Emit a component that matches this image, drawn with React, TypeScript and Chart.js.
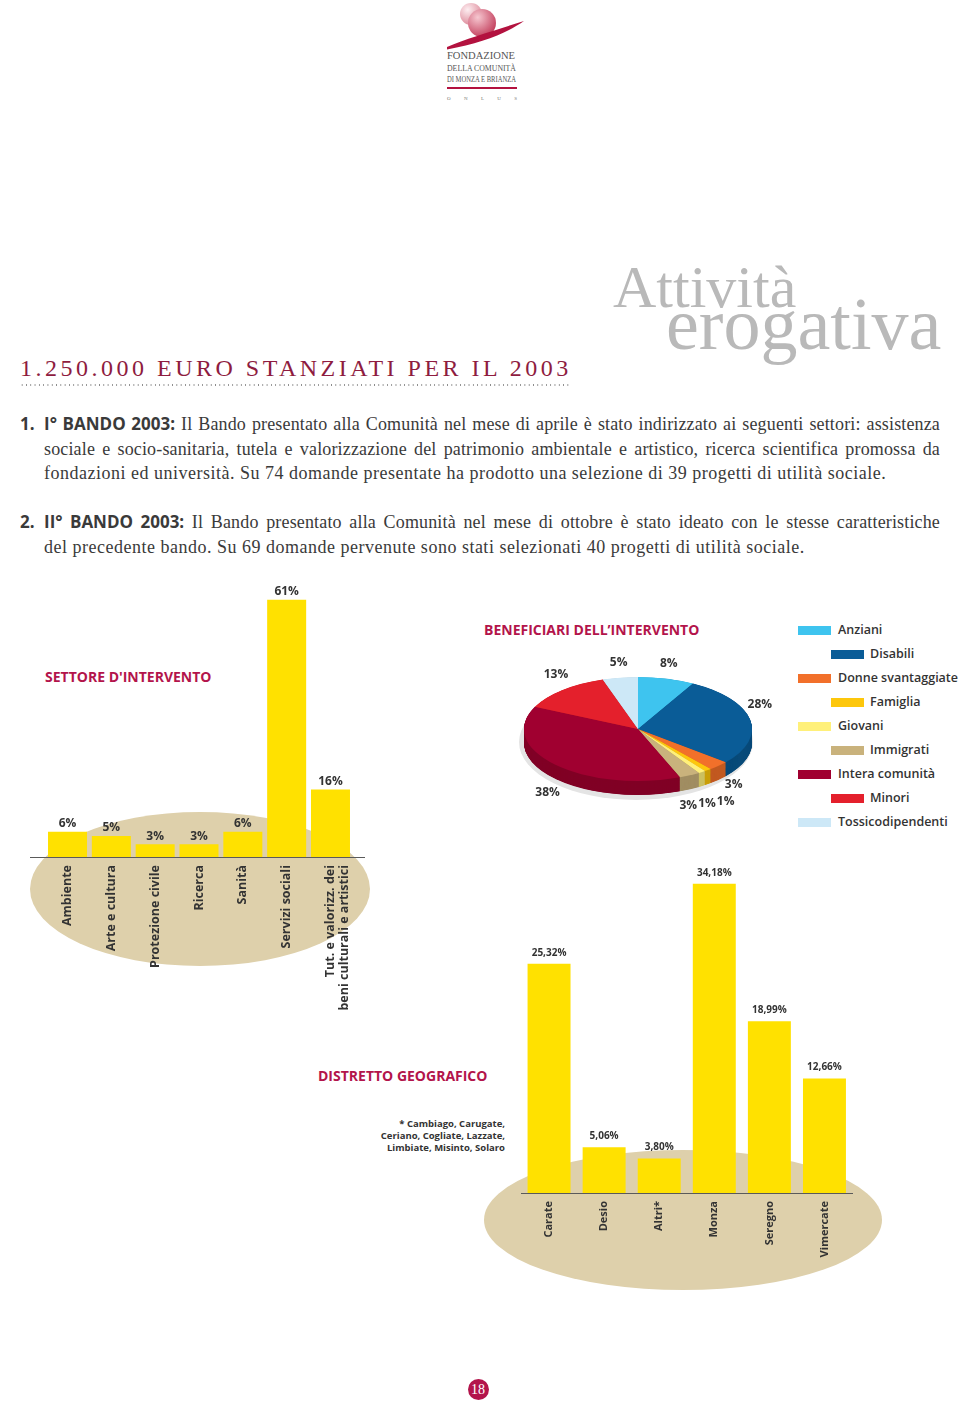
import React, { useEffect, useRef } from "react";
import { Chart, registerables } from "chart.js";

Chart.register(...registerables);

// ---------- DATA ----------
const sectorLabels: (string | string[])[] = [
  "Ambiente",
  "Arte e cultura",
  "Protezione civile",
  "Ricerca",
  "Sanità",
  "Servizi sociali",
  ["Tut. e valorizz. dei", "beni culturali e artistici"],
];
const sectorValues = [6, 5, 3, 3, 6, 61, 16];

const beneficiaryLabels = [
  "Anziani",
  "Disabili",
  "Donne svantaggiate",
  "Famiglia",
  "Giovani",
  "Immigrati",
  "Intera comunità",
  "Minori",
  "Tossicodipendenti",
];
const beneficiaryValues = [8, 28, 3, 1, 1, 3, 38, 13, 5];
const beneficiaryColors = [
  "#3ec4ef",
  "#0a5c97",
  "#f2702a",
  "#fdc70c",
  "#fff07a",
  "#c9b27c",
  "#a00030",
  "#e4202c",
  "#cde8f7",
];

const districtLabels = ["Carate", "Desio", "Altri*", "Monza", "Seregno", "Vimercate"];
const districtValues = [25.32, 5.06, 3.8, 34.18, 18.99, 12.66];

// ---------- STYLE CONSTANTS ----------
const SANS = "'Open Sans', 'Noto Sans', sans-serif";
const SERIF = "'Liberation Serif', 'DejaVu Serif', serif";
const YELLOW = "#ffe100";
const BEIGE = "#ded0ab";
const CRIMSON = "#b3144b";
const DARK_CRIMSON = "#8e1c40";
const TEXT = "#333333";

function darken(hex: string, f: number) {
  const n = parseInt(hex.slice(1), 16);
  const r = Math.round(((n >> 16) & 255) * f);
  const g = Math.round(((n >> 8) & 255) * f);
  const b = Math.round((n & 255) * f);
  return `rgb(${r},${g},${b})`;
}

type BarCfg = {
  labels: (string | string[])[];
  values: number[];
  format: (v: number) => string;
  max: number;
  pad: { left: number; right: number; top: number };
  axisHeight: number;
  tickSize: number;
  valueSize: number;
  valueGap: number;
  ellipse: { x: number; y: number; rx: number; ry: number };
  axisFrom: number;
  axisTo: number;
  barPercentage: number;
};

function makeBar(canvas: HTMLCanvasElement, cfg: BarCfg) {
  const deco = {
    id: "deco",
    beforeDraw(chart: any) {
      const ctx = chart.ctx;
      ctx.save();
      ctx.fillStyle = BEIGE;
      ctx.beginPath();
      ctx.ellipse(cfg.ellipse.x, cfg.ellipse.y, cfg.ellipse.rx, cfg.ellipse.ry, 0, 0, Math.PI * 2);
      ctx.fill();
      ctx.restore();
    },
    afterDatasetsDraw(chart: any) {
      const ctx = chart.ctx;
      const bottom = chart.chartArea.bottom;
      ctx.save();
      ctx.strokeStyle = "#5a5a5a";
      ctx.lineWidth = 1.2;
      ctx.beginPath();
      ctx.moveTo(cfg.axisFrom, bottom + 0.5);
      ctx.lineTo(cfg.axisTo, bottom + 0.5);
      ctx.stroke();
      ctx.fillStyle = TEXT;
      ctx.font = `bold ${cfg.valueSize}px ${SANS}`;
      ctx.textAlign = "center";
      ctx.textBaseline = "middle";
      const meta = chart.getDatasetMeta(0);
      meta.data.forEach((bar: any, i: number) => {
        ctx.fillText(cfg.format(cfg.values[i]), bar.x, bar.y - cfg.valueGap);
      });
      ctx.restore();
    },
  };
  return new Chart(canvas, {
    type: "bar",
    data: {
      labels: cfg.labels as any,
      datasets: [
        {
          data: cfg.values,
          backgroundColor: YELLOW,
          borderWidth: 0,
          barPercentage: cfg.barPercentage,
          categoryPercentage: 1,
        },
      ],
    },
    options: {
      responsive: false,
      animation: false,
      layout: { padding: { left: cfg.pad.left, right: cfg.pad.right, top: cfg.pad.top, bottom: 0 } },
      plugins: { legend: { display: false }, tooltip: { enabled: false } },
      scales: {
        x: {
          grid: { display: false, drawTicks: false },
          border: { display: false },
          ticks: {
            autoSkip: false,
            minRotation: 90,
            maxRotation: 90,
            padding: 8,
            color: TEXT,
            font: { family: SANS, size: cfg.tickSize, weight: "bold" as any, lineHeight: 1.15 },
          },
          afterFit: (scale: any) => {
            scale.height = cfg.axisHeight;
          },
        },
        y: { display: false, min: 0, max: cfg.max },
      },
    },
    plugins: [deco],
  });
}

const PIE_K = 0.456; // vertical squash of the tilted pie
const PIE_T = 14; // thickness of pie side
const PIE_SHIFT = -1;

function makePie(canvas: HTMLCanvasElement) {
  const dark = beneficiaryColors.map((c) => darken(c, 0.8));
  const pie3d = {
    id: "pie3d",
    beforeDraw(chart: any) {
      const a = chart.getDatasetMeta(0).data[0];
      if (!a) return;
      const ctx = chart.ctx;
      const ty = a.y + PIE_SHIFT;
      ctx.save();
      ctx.fillStyle = "#e4e4e4";
      ctx.beginPath();
      ctx.ellipse(a.x - 2, ty + 13, a.outerRadius + 3, a.outerRadius * PIE_K + 6, 0, 0, Math.PI * 2);
      ctx.fill();
      ctx.restore();
    },
    beforeDatasetsDraw(chart: any) {
      const arcs = chart.getDatasetMeta(0).data;
      const ctx = chart.ctx;
      const cx = arcs[0].x;
      const cy = arcs[0].y;
      const ty = cy + PIE_SHIFT;
      ctx.save();
      ctx.translate(cx, ty);
      ctx.scale(1, PIE_K);
      ctx.translate(-cx, -cy);
      const D = PIE_T / PIE_K;
      for (let o = D; o > 0; o -= 0.7) {
        arcs.forEach((a: any, i: number) => {
          ctx.beginPath();
          ctx.moveTo(a.x, a.y + o);
          ctx.arc(a.x, a.y + o, a.outerRadius, a.startAngle, a.endAngle);
          ctx.closePath();
          ctx.fillStyle = dark[i];
          ctx.fill();
        });
      }
      // leave the transform active: chart.js draws the top face squashed
    },
    afterDatasetsDraw(chart: any) {
      const ctx = chart.ctx;
      ctx.restore();
      const arcs = chart.getDatasetMeta(0).data;
      const cx = arcs[0].x;
      const ty = arcs[0].y + PIE_SHIFT;
      const R = arcs[0].outerRadius;
      ctx.save();
      ctx.font = `bold 12px ${SANS}`;
      ctx.fillStyle = TEXT;
      ctx.textAlign = "center";
      ctx.textBaseline = "middle";
      const pos = arcs.map((a: any, i: number) => {
        const mid = (a.startAngle + a.endAngle) / 2;
        const c = Math.cos(mid);
        const s = Math.sin(mid);
        const label = `${beneficiaryValues[i]}%`;
        return {
          label,
          x: cx + c * (R + 10),
          y: ty + s * R * PIE_K + (s > 0 ? PIE_T + 14 : -15),
          w: ctx.measureText(label).width,
          moved: false,
        };
      });
      for (let i = 1; i < pos.length; i++) {
        const p = pos[i];
        const q = pos[i - 1];
        const minDx = (p.w + q.w) / 2 + 1;
        if (Math.abs(p.y - q.y) < 12 && Math.abs(p.x - q.x) < minDx) {
          if (!q.moved) {
            q.y -= 9;
            q.x += 8;
            p.y = q.y + 17;
            p.x = q.x - 8;
          } else {
            p.x = q.x - minDx;
            p.y = q.y + 2;
          }
          p.moved = true;
        }
      }
      pos.forEach((p: any) => ctx.fillText(p.label, p.x, p.y));
      ctx.restore();
    },
  };
  return new Chart(canvas, {
    type: "pie",
    data: {
      labels: beneficiaryLabels,
      datasets: [
        {
          data: beneficiaryValues,
          backgroundColor: beneficiaryColors,
          borderWidth: 0,
        },
      ],
    },
    options: {
      responsive: false,
      animation: false,
      layout: { padding: { left: 54, right: 44, top: 16, bottom: 16 } },
      plugins: { legend: { display: false }, tooltip: { enabled: false } },
    },
    plugins: [pie3d],
  });
}

const sectorCfg: BarCfg = {
  labels: sectorLabels,
  values: sectorValues,
  format: (v) => `${v}%`,
  max: 65,
  pad: { left: 45.6, right: 47.6, top: 8 },
  axisHeight: 173,
  tickSize: 12.5,
  valueSize: 12,
  valueGap: 8,
  ellipse: { x: 200, y: 314, rx: 170, ry: 77 },
  axisFrom: 30,
  axisTo: 365,
  barPercentage: 0.89,
};

const districtCfg: BarCfg = {
  labels: districtLabels,
  values: districtValues,
  format: (v) => `${v.toFixed(2).replace(".", ",")}%`,
  max: 36,
  pad: { left: 41.5, right: 48, top: 17.2 },
  axisHeight: 107,
  tickSize: 11,
  valueSize: 10,
  valueGap: 11,
  ellipse: { x: 203, y: 370, rx: 199, ry: 70 },
  axisFrom: 41,
  axisTo: 373,
  barPercentage: 0.78,
};

const para1 = [
  {
    num: "1.",
    bold: "I° BANDO 2003:",
    text: " Il Bando presentato alla Comunità nel mese di aprile è stato indirizzato ai seguenti settori: assistenza",
    justify: true,
  },
  {
    text: "sociale e socio-sanitaria, tutela e valorizzazione del patrimonio ambientale e artistico, ricerca scientifica promossa da",
    justify: true,
  },
  {
    text: "fondazioni ed università. Su 74 domande presentate ha prodotto una selezione di 39 progetti di utilità sociale.",
    justify: false,
  },
];
const para2 = [
  {
    num: "2.",
    bold: "II° BANDO 2003:",
    text: " Il Bando presentato alla Comunità nel mese di ottobre è stato ideato con le stesse caratteristiche",
    justify: true,
  },
  {
    text: "del precedente bando. Su 69 domande pervenute sono stati selezionati 40 progetti di utilità sociale.",
    justify: false,
  },
];

const abs = (left: number, top: number, extra: React.CSSProperties = {}): React.CSSProperties => ({
  position: "absolute",
  left,
  top,
  whiteSpace: "nowrap",
  ...extra,
});

function ParaLine({ line, top }: { line: any; top: number }) {
  return (
    <>
      {line.num && (
        <div style={abs(20, top, { fontFamily: SANS, fontWeight: 700, fontSize: 17, lineHeight: "24.5px", color: "#3a3a3a" })}>
          {line.num}
        </div>
      )}
      <div
        style={abs(44, top, {
          width: 896,
          fontFamily: SERIF,
          fontSize: 18,
          letterSpacing: line.justify ? "0.15px" : "0.5px",
          lineHeight: "24.5px",
          color: "#3a3a3a",
          textAlign: line.justify ? "justify" : "left",
          textAlignLast: line.justify ? "justify" : "left",
          whiteSpace: "normal",
          height: 24.5,
          overflow: "visible",
        } as any)}
      >
        {line.bold && (
          <span style={{ fontFamily: SANS, fontWeight: 700, fontSize: 17, letterSpacing: "0px" }}>{line.bold}</span>
        )}
        {line.text}
      </div>
    </>
  );
}

export default function App() {
  const c1 = useRef<HTMLCanvasElement>(null);
  const c2 = useRef<HTMLCanvasElement>(null);
  const c3 = useRef<HTMLCanvasElement>(null);

  useEffect(() => {
    const charts = [makeBar(c1.current!, sectorCfg), makePie(c2.current!), makeBar(c3.current!, districtCfg)];
    return () => charts.forEach((c) => c.destroy());
  }, []);

  const titleStyle = (left: number, top: number): React.CSSProperties =>
    abs(left, top, { fontFamily: SANS, fontWeight: 700, fontSize: 14, lineHeight: "16px", color: CRIMSON });

  return (
    <div
      style={{
        position: "absolute",
        left: 0,
        top: 0,
        width: 960,
        height: 1403,
        background: "#ffffff",
        overflow: "hidden",
      }}
    >
      {/* Logo */}
      <svg style={{ position: "absolute", left: 440, top: 0 }} width={90} height={105} viewBox="440 0 90 105">
        <defs>
          <radialGradient id="lg1" cx="0.35" cy="0.3" r="0.75">
            <stop offset="0" stopColor="#fdeef1" />
            <stop offset="1" stopColor="#dc8797" />
          </radialGradient>
          <radialGradient id="lg2" cx="0.35" cy="0.3" r="0.75">
            <stop offset="0" stopColor="#f6c7d0" />
            <stop offset="1" stopColor="#c23c5a" />
          </radialGradient>
        </defs>
        <circle cx={471} cy={14} r={11} fill="url(#lg1)" />
        <circle cx={482} cy={23} r={14} fill="url(#lg2)" />
        <path d="M447,47 C468,38 496,30 524,21 C507,33 482,43 447,49.5 Z" fill="#b3123f" />
        <text x={447} y={59} fontFamily={SERIF} fontSize={10} fill="#555" textLength={68} lengthAdjust="spacingAndGlyphs">
          FONDAZIONE
        </text>
        <text x={447} y={70.5} fontFamily={SERIF} fontSize={8.5} fill="#555" textLength={69} lengthAdjust="spacingAndGlyphs">
          DELLA COMUNITÀ
        </text>
        <text x={447} y={81.5} fontFamily={SERIF} fontSize={7.5} fill="#555" textLength={69} lengthAdjust="spacingAndGlyphs">
          DI MONZA E BRIANZA
        </text>
        <rect x={447} y={87} width={70} height={2} fill="#b3123f" />
        <text x={447} y={100} fontFamily={SERIF} fontSize={5} fill="#777" textLength={70} lengthAdjust="spacing">
          O N L U S
        </text>
      </svg>

      {/* Attività erogativa */}
      <div style={abs(613, 257, { fontFamily: SERIF, fontSize: 60, lineHeight: "60px", color: "#b9b9b9" })}>Attività</div>
      <div style={abs(666, 287, { fontFamily: SERIF, fontSize: 74, lineHeight: "74px", color: "#b9b9b9" })}>erogativa</div>

      {/* Heading */}
      <div
        style={abs(20, 356, {
          fontFamily: SERIF,
          fontSize: 24,
          lineHeight: "24px",
          letterSpacing: "3.5px",
          color: DARK_CRIMSON,
        })}
      >
        1.250.000 EURO STANZIATI PER IL 2003
      </div>
      <div
        style={abs(20, 384, {
          width: 550,
          height: 2,
          backgroundImage: "radial-gradient(circle, #8a8a8a 0.6px, transparent 0.9px)",
          backgroundSize: "4.3px 2px",
        })}
      />

      {/* Paragraphs */}
      {para1.map((l, i) => (
        <ParaLine key={"a" + i} line={l} top={412 + i * 24.5} />
      ))}
      {para2.map((l, i) => (
        <ParaLine key={"b" + i} line={l} top={510 + i * 24.5} />
      ))}

      {/* Sector chart */}
      <div style={titleStyle(45, 669)}>SETTORE D'INTERVENTO</div>
      <canvas
        ref={c1}
        width={400}
        height={455}
        style={{ position: "absolute", left: 0, top: 575, width: 400, height: 455 }}
      />

      {/* Beneficiaries pie */}
      <div style={titleStyle(484, 622)}>BENEFICIARI DELL’INTERVENTO</div>
      <canvas
        ref={c2}
        width={326}
        height={260}
        style={{ position: "absolute", left: 470, top: 600, width: 326, height: 260 }}
      />
      {beneficiaryLabels.map((l, i) => {
        const odd = i % 2 === 1;
        const cy = 630 + i * 24;
        return (
          <React.Fragment key={l}>
            <div
              style={abs(odd ? 831 : 798, cy - 4.5, {
                width: 33,
                height: 9,
                background: beneficiaryColors[i],
              })}
            />
            <div
              style={abs(odd ? 870 : 838, cy - 9, {
                fontFamily: SANS,
                fontWeight: 600,
                fontSize: 12.5,
                lineHeight: "18px",
                color: TEXT,
              })}
            >
              {l}
            </div>
          </React.Fragment>
        );
      })}

      {/* District chart */}
      <div style={titleStyle(318, 1068)}>DISTRETTO GEOGRAFICO</div>
      <div
        style={abs(305, 1118, {
          width: 200,
          textAlign: "right",
          fontFamily: SANS,
          fontWeight: 700,
          fontSize: 9.5,
          lineHeight: "12px",
          color: TEXT,
          whiteSpace: "pre",
        })}
      >
        {"* Cambiago, Carugate,\nCeriano, Cogliate, Lazzate,\nLimbiate, Misinto, Solaro"}
      </div>
      <canvas
        ref={c3}
        width={420}
        height={450}
        style={{ position: "absolute", left: 480, top: 850, width: 420, height: 450 }}
      />

      {/* Page number */}
      <div
        style={abs(467.5, 1378.5, {
          width: 21,
          height: 21,
          borderRadius: "50%",
          background: CRIMSON,
          color: "#fff",
          fontFamily: SERIF,
          fontSize: 14,
          lineHeight: "21px",
          textAlign: "center",
        })}
      >
        18
      </div>
    </div>
  );
}
